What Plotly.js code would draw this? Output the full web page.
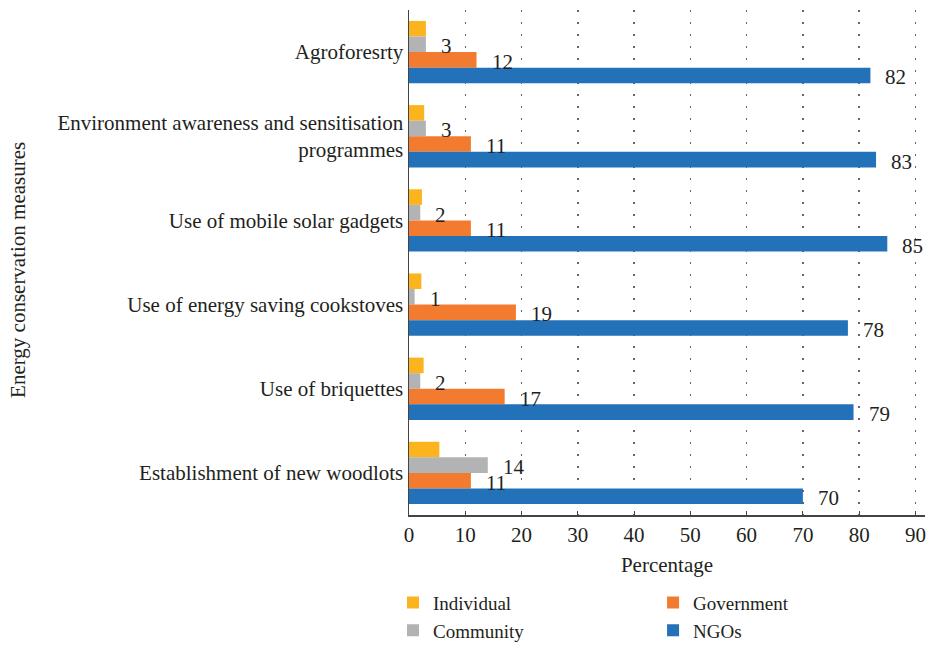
<!DOCTYPE html>
<html>
<head>
<meta charset="utf-8">
<script src="https://cdn.plot.ly/plotly-3.0.1.min.js"></script>
<style>html,body{margin:0;padding:0;background:#fff;}#chart{width:927px;height:645px;}</style>
</head>
<body>
<div id="chart"></div>
<script>
const categories = [
  'Agroforesrty',
  'Environment awareness and sensitisation<br>programmes',
  'Use of mobile solar gadgets',
  'Use of energy saving cookstoves',
  'Use of briquettes',
  'Establishment of new woodlots'
];
const individual = [3, 2.7, 2.3, 2.2, 2.6, 5.4];
const community = [3, 3, 2, 1, 2, 14];
const government = [12, 11, 11, 19, 17, 11];
const ngos = [82, 83, 85, 78, 79, 70];
const xTicks = [0, 10, 20, 30, 40, 50, 60, 70, 80, 90];

const FONT = '"Liberation Serif", "Times New Roman", serif';
const TXT = '#231f20';
const FS = 21;
const bargap = 0.26;

const series = [
  {name: 'Individual', vals: individual, color: '#FBB41E', legend: 'legend', label: false},
  {name: 'Community', vals: community, color: '#B2B3B5', legend: 'legend', label: true},
  {name: 'Government', vals: government, color: '#F37B30', legend: 'legend2', label: true},
  {name: 'NGOs', vals: ngos, color: '#2271B9', legend: 'legend2', label: true}
];

const traces = series.map(s => ({
  type: 'bar', orientation: 'h', name: s.name, x: s.vals, y: categories,
  marker: {color: s.color}, legend: s.legend, hoverinfo: 'x+name'
}));

const annotations = [];
const w = (1 - bargap) / series.length;
series.forEach((s, k) => {
  if (!s.label) return;
  const off = -(1 - bargap) / 2 + (k + 0.5) * w;
  s.vals.forEach((v, i) => {
    annotations.push({
      x: v, y: i + off, xref: 'x', yref: 'y', text: String(v), showarrow: false,
      xanchor: 'left', yanchor: 'middle', xshift: 13, yshift: -2,
      font: {family: FONT, size: FS, color: TXT}
    });
  });
});
annotations.push({
  xref: 'paper', yref: 'paper', x: -0.758, y: 0.485, xanchor: 'center', yanchor: 'middle',
  text: 'Energy conservation measures', textangle: -90, showarrow: false,
  font: {family: FONT, size: FS, color: TXT}
});

const legendBase = {
  orientation: 'v', xanchor: 'left', y: -0.136, yanchor: 'top',
  bgcolor: 'rgba(0,0,0,0)', traceorder: 'normal', tracegroupgap: 0,
  font: {family: FONT, size: 19, color: TXT}, itemclick: false
};

const layout = {
  width: 927, height: 645,
  margin: {l: 409, r: 2, t: 10, b: 130, autoexpand: false},
  paper_bgcolor: '#fff', plot_bgcolor: '#fff',
  font: {family: FONT, size: FS, color: TXT},
  barmode: 'group', bargap: bargap, bargroupgap: 0,
  showlegend: true,
  legend: Object.assign({}, legendBase, {x: -0.031}),
  legend2: Object.assign({}, legendBase, {x: 0.473}),
  xaxis: {
    range: [0, 91.7], tickvals: xTicks, ticktext: xTicks.map(String),
    showgrid: true, gridcolor: '#666', gridwidth: 1.5, griddash: '2px,10px',
    zeroline: false, showline: true, linecolor: '#444', linewidth: 1.5,
    ticks: 'inside', ticklen: 4, tickcolor: '#444', ticklabelstandoff: 0,
    automargin: false,
    tickfont: {family: FONT, size: FS, color: TXT},
    title: {text: 'Percentage', font: {family: FONT, size: FS, color: TXT}, standoff: 11}
  },
  yaxis: {
    type: 'category', autorange: 'reversed', showgrid: false, zeroline: false,
    showline: true, linecolor: '#444', linewidth: 1.5, ticks: '', automargin: false,
    tickfont: {family: FONT, size: FS, color: TXT}
  },
  annotations: annotations
};

Plotly.newPlot('chart', traces, layout, {displayModeBar: false, staticPlot: true});
</script>
</body>
</html>
